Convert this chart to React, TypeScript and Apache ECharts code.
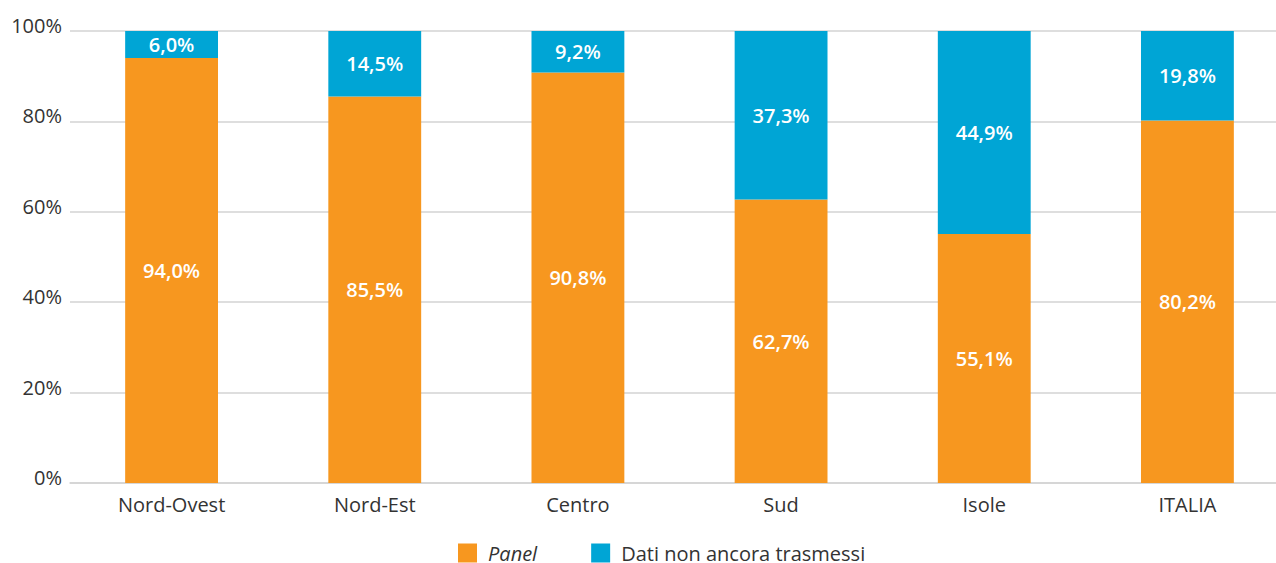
import React, { useEffect, useRef } from "react";
import * as echarts from "echarts";

const categories = ["Nord-Ovest", "Nord-Est", "Centro", "Sud", "Isole", "ITALIA"];
const panelValues = [94.0, 85.5, 90.8, 62.7, 55.1, 80.2];
const datiValues = [6.0, 14.5, 9.2, 37.3, 44.9, 19.8];
const seriesNames = ["Panel", "Dati non ancora trasmessi"];

const fmt = (v: number) => v.toFixed(1).replace(".", ",") + "%";
const FONT = "'Open Sans', 'Noto Sans', sans-serif";
const FS = 20;

export default function App() {
  const ref = useRef<HTMLDivElement>(null);
  useEffect(() => {
    document.body.style.margin = "0";
    document.body.style.overflow = "hidden";
    const chart = echarts.init(ref.current!, null, { renderer: "svg" });
    const labelStyle = {
      show: true,
      position: "inside" as const,
      color: "#ffffff",
      fontFamily: FONT,
      fontWeight: 600,
      fontSize: FS,
      formatter: (p: any) => fmt(p.value),
    };
    chart.setOption({
      animation: false,
      textStyle: { fontFamily: FONT },
      grid: { left: 70, right: 1, top: 31, bottom: 80, containLabel: false },
      legend: {
        left: 458,
        top: 543,
        itemWidth: 19,
        itemHeight: 19,
        itemGap: 54,
        padding: 0,
        icon: "rect",
        data: seriesNames,
        textStyle: {
          fontFamily: FONT,
          fontSize: FS,
          lineHeight: 19,
          color: "#333333",
          padding: [0, 0, 0, 6],
          rich: {
            i: { fontStyle: "italic", fontFamily: FONT, fontSize: FS, lineHeight: 19, color: "#333333" },
          },
        },
        formatter: (name: string) => (name === "Panel" ? "{i|Panel}" : name),
      },
      xAxis: {
        type: "category",
        data: categories,
        axisLine: { show: true, lineStyle: { color: "#d3d3d3", width: 1.5 } },
        axisTick: { show: false },
        axisLabel: { color: "#333333", fontSize: FS, fontFamily: FONT, margin: 11 },
      },
      yAxis: {
        type: "value",
        min: 0,
        max: 100,
        interval: 20,
        axisLine: { show: false },
        axisTick: { show: false },
        splitLine: { lineStyle: { color: "#d3d3d3", width: 1.5 } },
        axisLabel: {
          color: "#333333",
          fontSize: FS,
          fontFamily: FONT,
          margin: 8,
          verticalAlign: "bottom",
          lineHeight: 11,
          formatter: (v: number) => v + "%",
        },
      },
      series: [
        {
          name: seriesNames[0],
          type: "bar",
          stack: "total",
          barWidth: "45.7%",
          data: panelValues,
          itemStyle: { color: "#F7971F" },
          label: labelStyle,
        },
        {
          name: seriesNames[1],
          type: "bar",
          stack: "total",
          barWidth: "45.7%",
          data: datiValues,
          itemStyle: { color: "#00A5D5" },
          label: labelStyle,
        },
      ],
    });
    return () => chart.dispose();
  }, []);
  return <div ref={ref} style={{ width: 1290, height: 563 }} />;
}
